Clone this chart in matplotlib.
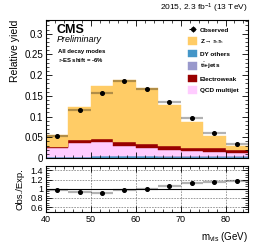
import numpy as np
import matplotlib
matplotlib.use('Agg')
import matplotlib.pyplot as plt
from matplotlib.ticker import MultipleLocator

plt.rcParams['font.family'] = ['Liberation Sans', 'DejaVu Sans']
plt.rcParams['mathtext.fontset'] = 'custom'
plt.rcParams['mathtext.rm'] = 'Liberation Sans'
plt.rcParams['mathtext.it'] = 'Liberation Sans:italic'
plt.rcParams['mathtext.bf'] = 'Liberation Sans:bold'

COLORS = {
    "ztt": "#FFCC66",
    "dy": "#4496C8",
    "tt": "#9999CC",
    "ewk": "#990000",
    "qcd": "#FFCCFF",
}

# m_vis bins (GeV)
bin_edges = [40, 45, 50, 55, 60, 65, 70, 75, 80, 85]

# stacked expectation (relative yield), bottom to top
dy_others = [0.002, 0.002, 0.004, 0.004, 0.004, 0.003, 0.003, 0.003, 0.003]
ttbar = [0.0005, 0.001, 0.001, 0.001, 0.001, 0.001, 0.001, 0.001, 0.001]
qcd = [0.0215, 0.034, 0.034, 0.025, 0.020, 0.016, 0.014, 0.011, 0.009]
ewk = [0.0015, 0.006, 0.007, 0.009, 0.008, 0.008, 0.006, 0.008, 0.006]
ztt = [0.0305, 0.081, 0.127, 0.150, 0.136, 0.101, 0.063, 0.029, 0.010]

observed = [0.054, 0.116, 0.156, 0.185, 0.167, 0.136, 0.097, 0.060, 0.034]
observed_err = [0.001, 0.001, 0.002, 0.002, 0.002, 0.002, 0.002, 0.0013, 0.0013]

edges = np.array(bin_edges, dtype=float)
centers = 0.5 * (edges[:-1] + edges[1:])
widths = np.diff(edges)

fig = plt.figure(figsize=(2.61, 2.5), dpi=100)
ax = fig.add_axes([0.176, 0.368, 0.774, 0.552])
axr = fig.add_axes([0.176, 0.153, 0.774, 0.184])

ztt_label = r'Z$\rightarrow\tau_{\mathrm{h}}\tau_{\mathrm{h}}$'
tt_label = r't$\bar{\mathrm{t}}$+jets'
components = [
    (dy_others, COLORS["dy"], 'DY others'),
    (ttbar, COLORS["tt"], tt_label),
    (qcd, COLORS["qcd"], 'QCD multijet'),
    (ewk, COLORS["ewk"], 'Electroweak'),
    (ztt, COLORS["ztt"], ztt_label),
]

bottom = np.zeros(len(centers))
handles = {}
for vals, col, lab in components:
    vals = np.array(vals)
    h = ax.stairs(bottom + vals, edges, baseline=bottom, fill=True,
                  facecolor=col, edgecolor=col, linewidth=0.3, label=lab)
    handles[lab] = h
    bottom = bottom + vals
total = bottom

obs = np.array(observed)
oerr = np.array(observed_err)
ax.errorbar(centers, obs, xerr=widths / 2, fmt='none', ecolor='k',
            elinewidth=1.6, alpha=0.3, capsize=0)
ax.errorbar(centers, obs, yerr=oerr, fmt='o', color='k', markersize=2.6,
            elinewidth=0.8, capsize=0)
h_obs = ax.errorbar([], [], xerr=[], yerr=[], fmt='o', color='k',
                    markersize=2.6, elinewidth=0.8, capsize=0)

ax.set_xlim(40, 85)
ax.set_ylim(0, 0.333)
ax.set_yticks([0, 0.05, 0.1, 0.15, 0.2, 0.25, 0.3])
ax.set_yticklabels(['0', '0.05', '0.1', '0.15', '0.2', '0.25', '0.3'])
ax.yaxis.set_minor_locator(MultipleLocator(0.01))
ax.xaxis.set_major_locator(MultipleLocator(10))
ax.xaxis.set_minor_locator(MultipleLocator(2))
ax.tick_params(axis='both', which='both', direction='in', top=True, right=True,
               labelsize=7, pad=2)
ax.tick_params(which='major', length=4, width=0.6)
ax.tick_params(which='minor', length=2, width=0.5)
ax.tick_params(axis='x', labelbottom=False)
for s in ax.spines.values():
    s.set_linewidth(0.8)
ax.set_ylabel('Relative yield', fontsize=7.5, loc='top', labelpad=3)

ax.text(0.05, 0.93, 'CMS', transform=ax.transAxes, fontsize=9,
        fontweight='bold', va='center', ha='left')
ax.text(0.055, 0.86, 'Preliminary', transform=ax.transAxes, fontsize=6.5,
        style='italic', va='center', ha='left')
ax.text(0.06, 0.77, 'All decay modes', transform=ax.transAxes, fontsize=4.3,
        fontweight='bold', va='center', ha='left')
ax.text(0.06, 0.71, r'$\tau$-ES shift = -6%', transform=ax.transAxes,
        fontsize=4.3, fontweight='bold', va='center', ha='left')

fig.text(0.95, 0.965, r'2015, 2.3 fb$^{-1}$ (13 TeV)', fontsize=6,
         ha='right', va='center')

leg_handles = [h_obs, handles[ztt_label], handles['DY others'],
               handles[tt_label], handles['Electroweak'], handles['QCD multijet']]
leg_labels = ['Observed', ztt_label, 'DY others', tt_label, 'Electroweak',
              'QCD multijet']
ax.legend(leg_handles, leg_labels, loc='upper left',
          bbox_to_anchor=(0.68, 0.99), frameon=False,
          prop={'size': 4.6, 'weight': 'bold'},
          handlelength=1.5, handleheight=1.5, labelspacing=0.55,
          handletextpad=0.4, borderpad=0.2)

# ratio panel
ratio = obs / total
rerr = oerr / total
axr.axhline(1.0, color='k', linewidth=0.8, zorder=1)
axr.errorbar(centers, ratio, xerr=widths / 2, fmt='none', ecolor='k',
             elinewidth=1.6, alpha=0.3, capsize=0)
axr.errorbar(centers, ratio, yerr=rerr, fmt='o', color='k', markersize=2.6,
             elinewidth=0.8, capsize=0)
axr.set_xlim(40, 85)
axr.set_ylim(0.5, 1.5)
axr.set_yticks([0.6, 0.8, 1.0, 1.2, 1.4])
axr.set_yticklabels(['0.6', '0.8', '1', '1.2', '1.4'])
axr.yaxis.set_minor_locator(MultipleLocator(0.05))
axr.set_xticks([40, 50, 60, 70, 80])
axr.xaxis.set_minor_locator(MultipleLocator(2))
for yv in [0.6, 0.8, 1.2, 1.4]:
    axr.axhline(yv, color='#555555', linestyle=(0, (3, 2)), linewidth=0.4, zorder=0)
for xv in [50, 60, 70, 80]:
    axr.axvline(xv, color='#555555', linestyle=(0, (3, 2)), linewidth=0.4, zorder=0)
axr.tick_params(axis='both', which='both', direction='in', top=True, right=True,
                labelsize=6.5, pad=2)
axr.tick_params(which='major', length=4, width=0.6)
axr.tick_params(which='minor', length=2, width=0.5)
for s in axr.spines.values():
    s.set_linewidth(0.8)
axr.set_ylabel('Obs./Exp.', fontsize=6.8, labelpad=4)
axr.set_xlabel(r'm$_{\mathrm{vis}}$ (GeV)', fontsize=7, loc='right', labelpad=5)

fig.savefig('out.png', dpi=100)
